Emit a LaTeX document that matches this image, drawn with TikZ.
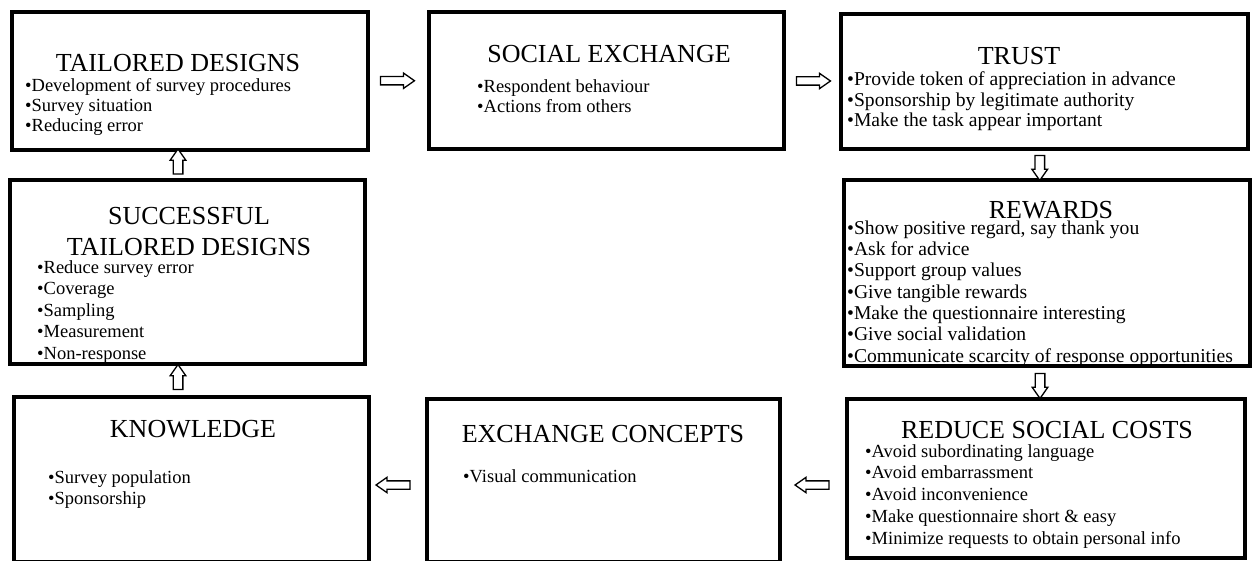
\documentclass[tikz,border=0pt]{standalone}
\usepackage{fontspec}
\setmainfont{Liberation Serif}
\usetikzlibrary{shapes.arrows,calc}
\begin{document}
\begin{tikzpicture}[x=1pt,y=-1pt,
  panel/.style={draw, line width=4pt, rectangle, inner sep=0pt},
  heading/.style={font=\fontsize{26}{31}\selectfont, inner sep=0pt, anchor=base, align=center},
  items/.style={font=\fontsize{18.5}{#1}\selectfont, inner sep=0pt, anchor=base west, align=left},
  items/.default=21.3,
  bigitems/.style={font=\fontsize{19.6}{#1}\selectfont, inner sep=0pt, anchor=base west, align=left},
  hflow/.style={single arrow, draw, line width=1.3pt, fill=white, inner sep=3.5pt,
    single arrow head extend=3.5pt, single arrow tip angle=70, minimum height=34pt},
  vflow/.style={single arrow, draw, line width=1.3pt, fill=white, inner sep=4.2pt,
    single arrow head extend=3pt, single arrow tip angle=70, minimum height=25pt},
]
\useasboundingbox (0,0) rectangle (1255,561);
\clip (0,0) rectangle (1255,561);

% boxes
\node[panel, minimum width=356pt, minimum height=138pt] (td)  at (190,81)     {};
\node[panel, minimum width=355pt, minimum height=137pt] (se)  at (606.5,80.5) {};
\node[panel, minimum width=407pt, minimum height=135pt] (tr)  at (1044.5,81.5){};
\node[panel, minimum width=406pt, minimum height=186pt] (rw)  at (1047,273)   {};
\node[panel, minimum width=398pt, minimum height=159pt] (rsc) at (1046,478.5) {};
\node[panel, minimum width=353pt, minimum height=163pt] (ec)  at (603.5,480.5){};
\node[panel, minimum width=355pt, minimum height=165pt] (kn)  at (191.5,479.5){};
\node[panel, minimum width=355pt, minimum height=184pt] (std) at (187.5,272)   {};

% headings and bullet lists (multi-line nodes sit on the baseline of their last line)
\node[heading] (tdh) at (178,72) {TAILORED DESIGNS};
\node[items=20] (tdl) at (25,132) {•Development of survey procedures\\•Survey situation\\•Reducing error};

\node[heading] (seh) at (609,63) {SOCIAL EXCHANGE};
\node[items=20] (sel) at (477,113) {•Respondent behaviour\\•Actions from others};

\node[heading] (trh) at (1019,65) {TRUST};
\node[bigitems=20.5] (trl) at (847,127) {•Provide token of appreciation in advance\\•Sponsorship by legitimate authority\\•Make the task appear important};

\node[heading] (rwh) at (1051,219) {REWARDS};
\node[bigitems=21.33] (rwl) at (847,362) {•Show positive regard, say thank you\\•Ask for advice\\•Support group values\\•Give tangible rewards\\•Make the questionnaire interesting\\•Give social validation\\•Communicate scarcity of response opportunities};

\node[heading] (rsch) at (1047,438) {REDUCE SOCIAL COSTS};
\node[items=21.75] (rscl) at (865,544) {•Avoid subordinating language\\•Avoid embarrassment\\•Avoid inconvenience\\•Make questionnaire short \& easy\\•Minimize requests to obtain personal info};

\node[heading] (ech) at (603,442) {EXCHANGE CONCEPTS};
\node[items] (ecl) at (463,482) {•Visual communication};

\node[heading] (knh) at (193,437) {KNOWLEDGE};
\node[items=21] (knl) at (48,504) {•Survey population\\•Sponsorship};

\node[heading] (stdh) at (189,256) {SUCCESSFUL\\TAILORED DESIGNS};
\node[items=21.5] (stdl) at (37,359) {•Reduce survey error\\•Coverage\\•Sampling\\•Measurement\\•Non-response};

% block arrows between the boxes
\node[hflow] (a1) at ($(td.east)!0.5!(se.west)+(-4,0)$) {};
\node[hflow] (a2) at ($(se.east)!0.5!(tr.west)+(-2,0)$) {};
\node[vflow, shape border rotate=270] (a3) at ($(tr.south)!0.5!(rw.north)+(-6,0)$) {};
\node[vflow, shape border rotate=270] (a4) at ($(rw.south)!0.5!(rsc.north)+(-6.5,0)$) {};
\node[hflow, shape border rotate=180] (a5) at ($(rsc.west)!0.5!(ec.east)+(1.5,5.5)$) {};
\node[hflow, shape border rotate=180] (a6) at ($(ec.west)!0.5!(kn.east)+(-2,5)$) {};
\node[vflow, shape border rotate=90] (a7) at ($(kn.north)!0.5!(std.south)+(-11.5,0)$) {};
\node[vflow, shape border rotate=90] (a8) at ($(std.north)!0.5!(td.south)+(-10.75,0)$) {};
\end{tikzpicture}
\end{document}
